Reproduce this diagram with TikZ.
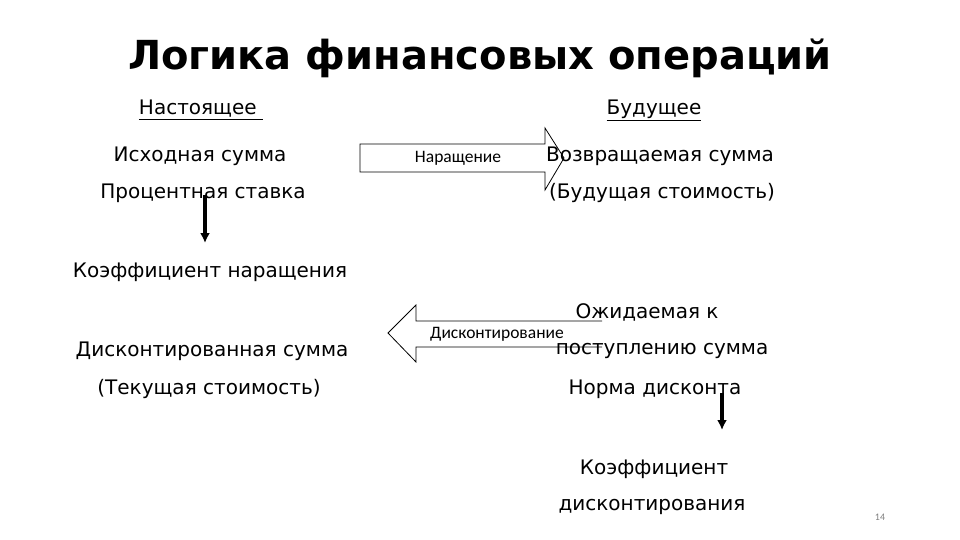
\documentclass[tikz,border=0pt]{standalone}
\usepackage{fontspec}
\setmainfont{DejaVu Sans}
\newfontfamily\smallfont{Carlito}
\usetikzlibrary{arrows.meta}
\tikzset{
  txt/.style={inner sep=0pt, font=\fontsize{20}{24}\selectfont},
  blockarrow/.style={draw, line width=0.8pt, fill=white},
  arrowlabel/.style={inner sep=0pt, font=\smallfont\fontsize{17.5}{20}\selectfont},
  downarrow/.style={line width=3.4pt, -{Latex[length=10pt,width=10pt]}}
}
\begin{document}
\begin{tikzpicture}[x=1pt,y=-1pt]
  \useasboundingbox (0,0) rectangle (960,540);
  % Block arrows
  \draw[blockarrow] (360,144) -- (545,144) -- (545,128) -- (564,158)
    -- (545,190) -- (545,172) -- (360,172) -- cycle;
  \node[arrowlabel] (growth) at (458,158) {Наращение};
  \draw[blockarrow] (602,321) -- (416,321) -- (416,305) -- (388,333)
    -- (416,362) -- (416,347) -- (602,347);
  \node[arrowlabel] (discount) at (497,334) {Дисконтирование};
  % Title
  \node[inner sep=0pt, font=\bfseries\fontsize{40}{44}\selectfont] (title) at (480,58) {Логика финансовых операций};
  % Column heads
  \node[txt] (now) at (201,110) {\underline{Настоящее\ }};
  \node[txt] (future) at (654,110) {\underline{Будущее}};
  % Left column
  \node[txt] (initial) at (200,156) {Исходная сумма};
  \node[txt] (rate) at (203,193) {Процентная ставка};
  \node[txt] (growthcoef) at (210,272) {Коэффициент наращения};
  \node[txt] (discounted) at (212,351) {Дисконтированная сумма};
  \node[txt] (present) at (209,389) {(Текущая стоимость)};
  % Right column
  \node[txt] (returned) at (660,156) {Возвращаемая сумма};
  \node[txt] (futval) at (662,193) {(Будущая стоимость)};
  \node[txt] (expected1) at (647,312) {Ожидаемая к};
  \node[txt] (expected2) at (662,351) {поступлению сумма};
  \node[txt] (discrate) at (655,389) {Норма дисконта};
  \node[txt] (disccoef1) at (654,469) {Коэффициент};
  \node[txt] (disccoef2) at (652,507) {дисконтирования};
  % Down arrows
  \coordinate (a1) at (205,195);
  \coordinate (a2) at (205,243);
  \coordinate (b1) at (722,393);
  \coordinate (b2) at (722,430);
  \draw[downarrow] (a1) -- (a2);
  \draw[downarrow] (b1) -- (b2);
  % Page number
  \node[inner sep=0pt, text=gray, font=\smallfont\fontsize{10}{12}\selectfont] (page) at (880,517) {14};
\end{tikzpicture}
\end{document}
